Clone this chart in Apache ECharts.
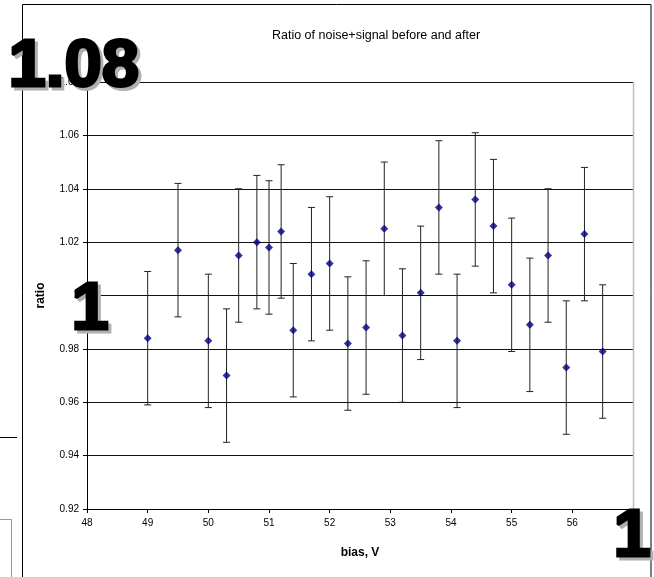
<!DOCTYPE html>
<html>
<head>
<meta charset="utf-8">
<script src="https://cdn.jsdelivr.net/npm/echarts@6/dist/echarts.min.js"></script>
<style>
html,body{margin:0;padding:0;background:#fff;}
#chart{width:654px;height:577px;}
</style>
</head>
<body>
<div id="chart"></div>
<script>
// Data
var bias  = [49.0, 49.5, 50.0, 50.3, 50.5, 50.8, 51.0, 51.2, 51.4, 51.7, 52.0, 52.3, 52.6,
             52.9, 53.2, 53.5, 53.8, 54.1, 54.4, 54.7, 55.0, 55.3, 55.6, 55.9, 56.2, 56.5];
var ratio = [0.984, 1.017, 0.983, 0.970, 1.015, 1.020, 1.018, 1.024, 0.987, 1.008, 1.012, 0.982, 0.988,
             1.025, 0.985, 1.001, 1.033, 0.983, 1.036, 1.026, 1.004, 0.989, 1.015, 0.973, 1.023, 0.979];
var errs  = [0.025, 0.025, 0.025, 0.025, 0.025, 0.025, 0.025, 0.025, 0.025, 0.025, 0.025, 0.025, 0.025,
             0.025, 0.025, 0.025, 0.025, 0.025, 0.025, 0.025, 0.025, 0.025, 0.025, 0.025, 0.025, 0.025];
var xTicks = {min: 48, max: 57, step: 1};
var yTicks = {min: 0.92, max: 1.08, step: 0.02};
var titleText = 'Ratio of noise+signal before and after';
var xName = 'bias, V';
var yName = 'ratio';
var overlayTexts = ['1.08', '1', '1'];

var pts = bias.map(function (b, i) { return [b, ratio[i]]; });
var bars = bias.map(function (b, i) { return [b, ratio[i], ratio[i] - errs[i], ratio[i] + errs[i]]; });

var FONT = '"Liberation Sans", Arial, sans-serif';
var chart = echarts.init(document.getElementById('chart'), null, {renderer: 'canvas'});

function bigText(txt, x, y) {
  return [
    {type: 'text', z: 100, left: x + 3, top: y + 3, silent: true,
     style: {text: txt, font: 'bold 67px ' + FONT, fill: '#b0b0b0', stroke: '#b0b0b0', lineWidth: 3}},
    {type: 'text', z: 101, left: x, top: y, silent: true,
     style: {text: txt, font: 'bold 67px ' + FONT, fill: '#000', stroke: '#000', lineWidth: 3}}
  ];
}

var graphics = [
  // chart area border
  {type: 'rect', z: 0, silent: true, shape: {x: 22.5, y: 4.5, width: 628.5, height: 600},
   style: {fill: null, stroke: '#000', lineWidth: 1}},
  // background spreadsheet remnants
  {type: 'line', z: 0, silent: true, shape: {x1: 0, y1: 437.5, x2: 17, y2: 437.5},
   style: {stroke: '#000', lineWidth: 1}},
  {type: 'rect', z: 0, silent: true, shape: {x: -5, y: 519.5, width: 16.5, height: 80},
   style: {fill: null, stroke: '#999', lineWidth: 1}},
  // right plot border (gray)
  {type: 'line', z: 1, silent: true, shape: {x1: 633.5, y1: 82, x2: 633.5, y2: 509},
   style: {stroke: '#bdbdbd', lineWidth: 1.5}}
];
graphics = graphics.concat(bigText(overlayTexts[0], 7, 33))
                   .concat(bigText(overlayTexts[1], 70, 276))
                   .concat(bigText(overlayTexts[2], 612, 503));

var option = {
  animation: false,
  backgroundColor: '#fff',
  textStyle: {fontFamily: FONT},
  title: {
    text: titleText, left: 371, top: 24, textAlign: 'center',
    textStyle: {fontSize: 12.5, fontWeight: 'normal', color: '#000', fontFamily: FONT}
  },
  grid: {left: 87, top: 82, width: 546, height: 427, containLabel: false},
  xAxis: {
    type: 'value', min: xTicks.min, max: xTicks.max, interval: xTicks.step,
    name: xName, nameLocation: 'middle', nameGap: 38,
    nameTextStyle: {fontSize: 12, fontWeight: 'bold', color: '#000', fontFamily: FONT},
    axisLine: {show: true, lineStyle: {color: '#000', width: 1}},
    axisTick: {show: true, inside: false, length: 4, lineStyle: {color: '#000'}},
    axisLabel: {fontSize: 10, color: '#000', margin: 9, fontFamily: FONT},
    splitLine: {show: false}
  },
  yAxis: {
    type: 'value', min: yTicks.min, max: yTicks.max, interval: yTicks.step,
    name: yName, nameLocation: 'middle', nameGap: 40, nameRotate: 90,
    nameTextStyle: {fontSize: 12, fontWeight: 'bold', color: '#000', fontFamily: FONT},
    axisLine: {show: true, lineStyle: {color: '#000', width: 1}},
    axisTick: {show: true, inside: false, length: 4, lineStyle: {color: '#000'}},
    axisLabel: {fontSize: 10, color: '#000', margin: 8, fontFamily: FONT,
      formatter: function (v) { return String(Math.round(v * 100) / 100); }},
    splitLine: {show: true, lineStyle: {color: '#111', width: 1}}
  },
  series: [
    {
      type: 'custom', name: 'err', data: bars, z: 2,
      encode: {x: 0, y: [1, 2, 3]},
      renderItem: function (params, api) {
        var x = api.value(0);
        var top = api.coord([x, api.value(3)]);
        var bot = api.coord([x, api.value(2)]);
        var w = 3.5;
        var st = {stroke: '#222', lineWidth: 1};
        return {
          type: 'group',
          children: [
            {type: 'line', shape: {x1: top[0], y1: top[1], x2: bot[0], y2: bot[1]}, style: st},
            {type: 'line', shape: {x1: top[0] - w, y1: top[1], x2: top[0] + w, y2: top[1]}, style: st},
            {type: 'line', shape: {x1: bot[0] - w, y1: bot[1], x2: bot[0] + w, y2: bot[1]}, style: st}
          ]
        };
      }
    },
    {
      type: 'scatter', name: 'ratio', data: pts, z: 3,
      symbol: 'diamond', symbolSize: 8,
      itemStyle: {color: '#000080'}
    }
  ],
  graphic: graphics
};
chart.setOption(option);
</script>
</body>
</html>
